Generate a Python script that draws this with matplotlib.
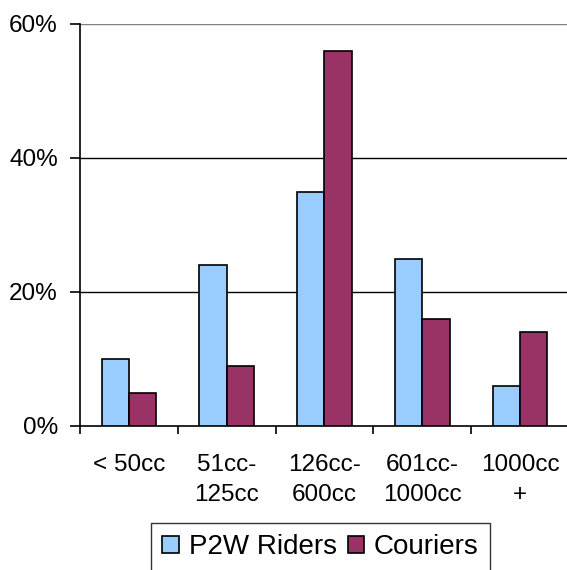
import numpy as np
import matplotlib
matplotlib.use("Agg")
import matplotlib.pyplot as plt

plt.rcParams['font.family'] = ['Liberation Sans', 'DejaVu Sans']

categories = ["< 50cc", "51cc-\n125cc", "126cc-\n600cc", "601cc-\n1000cc", "1000cc\n+"]
p2w_riders = [10, 24, 35, 25, 6]
couriers = [5, 9, 56, 16, 14]
yticks = [0, 20, 40, 60]

blue = "#99CCFF"
maroon = "#993366"

fig = plt.figure(figsize=(5.67, 5.70), dpi=100)
# plot area runs a little past the right edge of the picture
ax = fig.add_axes([80 / 567, 1 - 426 / 570, (569 - 80) / 567, (426 - 24) / 570])

x = np.arange(len(categories))
w = 0.28
ax.bar(x - w / 2, p2w_riders, w, color=blue, edgecolor="black", linewidth=1.2, label="P2W Riders", zorder=3)
ax.bar(x + w / 2, couriers, w, color=maroon, edgecolor="black", linewidth=1.2, label="Couriers", zorder=3)

ax.set_ylim(0, 60)
ax.set_xlim(-0.5, 4.5)
ax.set_yticks(yticks)
ax.set_yticklabels([f"{v}%" for v in yticks], fontsize=17.5)
for v in yticks[1:]:
    ax.axhline(v, color="black" if v < 60 else "#808080", linewidth=1, zorder=1)

ax.set_xticks(x)
ax.set_xticklabels(categories, fontsize=17.5, linespacing=1.5)
ax.set_xticks(np.arange(-0.5, 5, 1), minor=True)
ax.tick_params(axis="x", which="major", length=0, pad=20)
ax.tick_params(axis="x", which="minor", length=6, width=1.2, direction="out")
ax.tick_params(axis="y", length=7, width=1.2, direction="out", pad=9)

for s in ["top", "right"]:
    ax.spines[s].set_visible(False)
for s in ["left", "bottom"]:
    ax.spines[s].set_color("black")
    ax.spines[s].set_linewidth(1.2)

fig.legend(loc="upper center", bbox_to_anchor=(320.5 / 567, 1 - 523 / 570), ncol=2,
           fontsize=20, frameon=True, fancybox=False, edgecolor="black",
           handlelength=0.6, handleheight=0.6, handletextpad=0.35, columnspacing=0.4,
           borderpad=0.4, borderaxespad=0)

fig.savefig("out.png", dpi=100)
